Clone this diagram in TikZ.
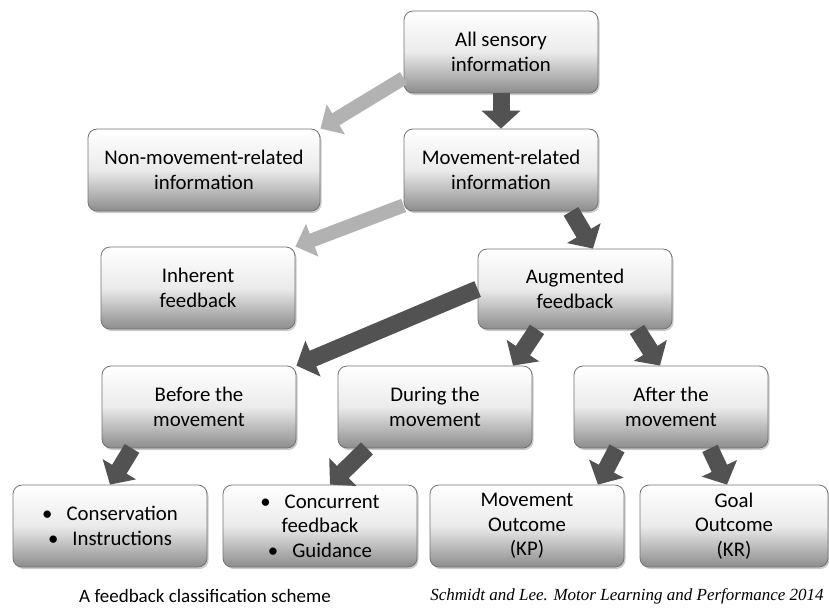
\documentclass[tikz,border=0pt]{standalone}
\usepackage{fontspec}
\setmainfont{Carlito}
\newfontfamily\refserif{Liberation Serif}
\usetikzlibrary{positioning}
\usetikzlibrary{arrows.meta}
\usetikzlibrary{shadows}
\tikzset{
  fbbox/.style={draw=black!55, line width=0.8pt, rounded corners=9pt,
    top color=white, bottom color=black!45, middle color=black!8,
    drop shadow={opacity=0.4, shadow xshift=1.5pt, shadow yshift=-2pt},
    minimum width=194pt, minimum height=82pt, align=center,
    font=\fontsize{20.8}{24.5}\selectfont},
  dkarrow/.style={draw=black!68, line width=17pt, -{Triangle[width=38pt,length=18pt]}},
  ltarrow/.style={draw=black!30, line width=14pt, -{Triangle[width=34pt,length=18pt]}}
}
\newcommand{\bul}{\textbullet\hspace{14pt}}

\begin{document}
\begin{tikzpicture}
        \useasboundingbox (0,0) rectangle (829pt,-608pt);
        \node [fbbox] (sensory) at (501pt,-52pt) {All sensory\\information};
        \node [fbbox, on grid, below=118pt of sensory] (movrel) {Movement-related\\information};
        \node [fbbox, on grid, left=297pt of movrel, minimum width=232pt] (nonmov) {Non-movement-related\\information};
        \node [fbbox, on grid, below right=119pt and 74pt of movrel, minimum height=80pt] (augm) {Augmented\\feedback};
        \node [fbbox, on grid, below left=118pt and 6pt of nonmov] (inherent) {Inherent\\feedback};
        \node [fbbox, on grid, below left=118pt and 140pt of augm] (during) {During the\\movement};
        \node [fbbox, on grid, left=236pt of during] (before) {Before the\\movement};
        \node [fbbox, on grid, right=236pt of during] (after) {After the\\movement};
        \node [fbbox, on grid, below left=119pt and 115pt of during] (concur) {\bul Concurrent\\feedback\\\bul Guidance};
        \node [fbbox, on grid, left=210pt of concur] (conserv) {\bul Conservation\\\bul Instructions};
        \node [fbbox, on grid, right=207pt of concur] (kp) {Movement\\Outcome\\(KP)};
        \node [fbbox, on grid, right=207pt of kp, minimum width=188pt] (kr) {Goal\\Outcome\\(KR)};
        \node [font=\fontsize{19}{22}\selectfont] (capleft) at (205pt,-596pt) {A feedback classification scheme};
        \node [font=\fontsize{17}{20}\selectfont\refserif\itshape] (capright) at (627pt,-596pt) {Schmidt and Lee. Motor Learning and Performance 2014};
        % connectors
        \draw [ltarrow] (sensory.195) to (nonmov.north east);
        \draw [dkarrow] (sensory.south) to (movrel.north);
        \draw [ltarrow] (movrel.200) to (inherent.north east);
        \draw [dkarrow] ([xshift=70pt]movrel.south) to ([xshift=18pt]augm.north);
        \draw [dkarrow] (augm.west) to (before.north east);
        \draw [dkarrow] ([xshift=-38pt]augm.south) to ([xshift=78pt]during.north);
        \draw [dkarrow] ([xshift=62pt]augm.south) to ([xshift=-11pt]after.north);
        \draw [dkarrow] ([xshift=-67pt]before.south) to (conserv.north);
        \draw [dkarrow] ([xshift=-68pt]during.south) to ([xshift=10pt]concur.north);
        \draw [dkarrow] ([xshift=-54pt]after.south) to ([xshift=71pt]kp.north);
        \draw [dkarrow] ([xshift=39pt]after.south) to ([xshift=-7pt]kr.north);
\end{tikzpicture}
\end{document}
